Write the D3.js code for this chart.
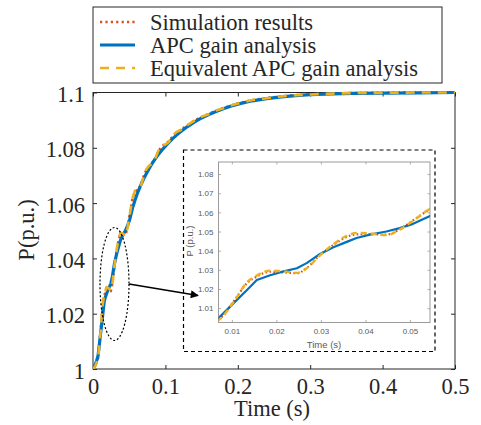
<!DOCTYPE html>
<html><head><meta charset="utf-8">
<script src="https://cdn.jsdelivr.net/npm/d3@7"></script>
<style>body{margin:0;background:#fff}svg{display:block}</style>
</head><body>
<svg id="c" width="481" height="425"></svg>
<script>
const time = [0,0.003,0.005,0.007,0.0104,0.0134,0.0156,0.0186,0.0216,0.0246,0.0268,0.0298,0.0328,0.0358,0.038,0.041,0.0447,0.0477,0.0507,0.0545,0.058,0.062,0.066,0.07,0.074,0.078,0.082,0.086,0.09,0.095,0.1,0.105,0.11,0.115,0.12,0.13,0.14,0.15,0.16,0.17,0.18,0.19,0.2,0.22,0.24,0.26,0.28,0.3,0.33,0.36,0.4,0.45,0.5];
const apcGain = [1.000,1.0015,1.003,1.0048,1.0126,1.0195,1.0247,1.0272,1.0292,1.0308,1.0335,1.0383,1.0418,1.0446,1.0466,1.0484,1.0500,1.0518,1.0540,1.0581,1.0610,1.0640,1.0665,1.0688,1.0708,1.0727,1.0745,1.0760,1.0775,1.0791,1.0806,1.0820,1.0833,1.0845,1.0856,1.0876,1.0893,1.0908,1.0920,1.0931,1.0941,1.0950,1.0958,1.0970,1.0978,1.0984,1.0989,1.0992,1.0995,1.0997,1.0998,1.0999,1.1000];
const simulation = [1.000,1.0012,1.0025,1.0040,1.0135,1.0230,1.0265,1.0290,1.0287,1.0282,1.0310,1.0378,1.0430,1.0472,1.0485,1.0486,1.0484,1.0512,1.0558,1.0615,1.0642,1.0648,1.0664,1.0697,1.0722,1.0735,1.0744,1.0762,1.0787,1.0805,1.0814,1.0824,1.0841,1.0855,1.0863,1.0881,1.0899,1.0911,1.0923,1.0934,1.0944,1.0952,1.0961,1.0972,1.0980,1.0986,1.0990,1.0993,1.0996,1.0998,1.0999,1.1000,1.1000];
const equivalentApc = [1.000,1.0010,1.0024,1.0038,1.0132,1.0235,1.0270,1.0296,1.0292,1.0284,1.0308,1.0376,1.0433,1.0478,1.0493,1.0490,1.0481,1.0510,1.0556,1.0618,1.0645,1.0650,1.0662,1.0695,1.0724,1.0737,1.0742,1.0760,1.0788,1.0807,1.0812,1.0822,1.0843,1.0857,1.0862,1.0882,1.0898,1.0912,1.0922,1.0935,1.0943,1.0953,1.0960,1.0973,1.0979,1.0986,1.0990,1.0993,1.0996,1.0998,1.0999,1.1000,1.1000];
const seriesNames = ["Simulation results","APC gain analysis","Equivalent APC gain analysis"];
const seriesColors = ["#D95319","#0072BD","#EDB120"];
const xTicks = [0,0.1,0.2,0.3,0.4,0.5];
const yTicks = [1,1.02,1.04,1.06,1.08,1.1];
const insetXTicks = [0.01,0.02,0.03,0.04,0.05];
const insetYTicks = [1.01,1.02,1.03,1.04,1.05,1.06,1.07,1.08];

const svg = d3.select("#c");
const serif = "'Liberation Serif','Times New Roman',serif";
const sans = "'Liberation Sans',Arial,sans-serif";
const fs = "22.5px";
const dataSets = [simulation, apcGain, equivalentApc];
const styles = [
  {w:2.6, dash:"2.2,3.2"},
  {w:3.2, dash:null},
  {w:2.6, dash:"9,7"}
];
const drawOrder = [0,1,2];

// ---------- main axes ----------
const M = {l:93, r:455, t:92.5, b:369};
const x = d3.scaleLinear().domain([0,0.5]).range([M.l,M.r]);
const y = d3.scaleLinear().domain([1,1.1]).range([M.b,M.t]);

svg.append("clipPath").attr("id","mc").append("rect")
  .attr("x",M.l).attr("y",M.t-3).attr("width",M.r-M.l).attr("height",M.b-M.t+3);

const tickLen = 4;
const gx = svg.append("g").attr("transform",`translate(0,${M.b})`)
  .call(d3.axisBottom(x).tickValues(xTicks).tickFormat(d3.format("")).tickSizeInner(-tickLen).tickSizeOuter(0).tickPadding(9));
const gxTop = svg.append("g").attr("transform",`translate(0,${M.t})`)
  .call(d3.axisTop(x).tickValues(xTicks).tickFormat("").tickSizeInner(-tickLen).tickSizeOuter(0));
const gy = svg.append("g").attr("transform",`translate(${M.l},0)`)
  .call(d3.axisLeft(y).tickValues(yTicks).tickFormat(d3.format("")).tickSizeInner(-tickLen).tickSizeOuter(0).tickPadding(8));
const gyR = svg.append("g").attr("transform",`translate(${M.r},0)`)
  .call(d3.axisRight(y).tickValues(yTicks).tickFormat("").tickSizeInner(-tickLen).tickSizeOuter(0));
[gx,gxTop,gy,gyR].forEach(g=>{
  g.select(".domain").remove();
  g.selectAll(".tick line").attr("stroke","#262626").attr("stroke-width",1);
  g.selectAll("text").attr("fill","#262626").style("font-family",serif).style("font-size",fs);
});
gx.selectAll("text").attr("dy","0.7em");
gy.selectAll("text").attr("dy","0.4em");
svg.append("rect").attr("x",M.l).attr("y",M.t).attr("width",M.r-M.l).attr("height",M.b-M.t)
  .attr("fill","none").attr("stroke","#262626").attr("stroke-width",1);

const lineMain = d3.line().x((d,i)=>x(time[i])).y(d=>y(d));
const gm = svg.append("g").attr("clip-path","url(#mc)");
drawOrder.forEach(k=>{
  const p = gm.append("path").datum(dataSets[k]).attr("d",lineMain)
    .attr("fill","none").attr("stroke",seriesColors[k]).attr("stroke-width",styles[k].w)
    .attr("stroke-linejoin","round");
  if(styles[k].dash) p.attr("stroke-dasharray",styles[k].dash);
});

svg.append("text").attr("x",272).attr("y",416).attr("text-anchor","middle")
  .style("font-family",serif).style("font-size",fs).attr("fill","#262626").text("Time (s)");
svg.append("text").attr("transform","translate(34,230) rotate(-90)").attr("text-anchor","middle")
  .style("font-family",serif).style("font-size",fs).attr("fill","#262626").text("P(p.u.)");

// ---------- legend ----------
const lg = svg.append("g");
lg.append("rect").attr("x",93).attr("y",7).attr("width",349).attr("height",76)
  .attr("fill","#fff").attr("stroke","#262626").attr("stroke-width",1);
seriesNames.forEach((name,k)=>{
  const cy = 22 + k*23;
  const l = lg.append("line").attr("x1",100).attr("x2",135).attr("y1",cy).attr("y2",cy)
    .attr("stroke",seriesColors[k]).attr("stroke-width",styles[k].w);
  if(styles[k].dash) l.attr("stroke-dasharray",styles[k].dash);
  lg.append("text").attr("x",150).attr("y",cy+8).style("font-family",serif).style("font-size",fs)
    .attr("fill","#262626").text(name);
});

// ---------- inset ----------
svg.append("rect").attr("x",183.5).attr("y",150).attr("width",251.5).attr("height",201.5)
  .attr("fill","#fff").attr("stroke","#000").attr("stroke-width",1.2).attr("stroke-dasharray","4,3");
const I = {l:218.5, r:430, t:162, b:322.5};
const xi = d3.scaleLinear().domain([0.007,0.0545]).range([I.l,I.r]);
const yi = d3.scaleLinear().domain([1.0025,1.0863]).range([I.b,I.t]);
svg.append("clipPath").attr("id","ic").append("rect")
  .attr("x",I.l).attr("y",I.t).attr("width",I.r-I.l).attr("height",I.b-I.t);
const grey = "#9a9a9a", tgrey = "#5a5a5a";
const it = 2.5;
const ix = svg.append("g").attr("transform",`translate(0,${I.b})`)
  .call(d3.axisBottom(xi).tickValues(insetXTicks).tickFormat(d3.format(".2f")).tickSizeInner(-it).tickSizeOuter(0).tickPadding(6));
const ixT = svg.append("g").attr("transform",`translate(0,${I.t})`)
  .call(d3.axisTop(xi).tickValues(insetXTicks).tickFormat("").tickSizeInner(-it).tickSizeOuter(0));
const iy = svg.append("g").attr("transform",`translate(${I.l},0)`)
  .call(d3.axisLeft(yi).tickValues(insetYTicks).tickFormat(d3.format(".2f")).tickSizeInner(-it).tickSizeOuter(0).tickPadding(5));
const iyR = svg.append("g").attr("transform",`translate(${I.r},0)`)
  .call(d3.axisRight(yi).tickValues(insetYTicks).tickFormat("").tickSizeInner(-it).tickSizeOuter(0));
[ix,ixT,iy,iyR].forEach(g=>{
  g.select(".domain").remove();
  g.selectAll(".tick line").attr("stroke",grey).attr("stroke-width",0.8);
  g.selectAll("text").attr("fill",tgrey).style("font-family",sans).style("font-size","8px");
});
ix.selectAll("text").attr("dy","0.72em");
iy.selectAll("text").attr("dy","0.34em");
svg.append("rect").attr("x",I.l).attr("y",I.t).attr("width",I.r-I.l).attr("height",I.b-I.t)
  .attr("fill","none").attr("stroke",grey).attr("stroke-width",1);
const lineInset = d3.line().x((d,i)=>xi(time[i])).y(d=>yi(d)).curve(d3.curveMonotoneX);
const lineInsetLin = d3.line().x((d,i)=>xi(time[i])).y(d=>yi(d));
const gi = svg.append("g").attr("clip-path","url(#ic)");
const iStyles = [{w:2.2,dash:"1.6,2.4"},{w:2.2,dash:null},{w:2.4,dash:"6,4"}];
drawOrder.forEach(k=>{
  const p = gi.append("path").datum(dataSets[k]).attr("d",k===1?lineInsetLin:lineInset)
    .attr("fill","none").attr("stroke",seriesColors[k]).attr("stroke-width",iStyles[k].w)
    .attr("stroke-linejoin","round");
  if(iStyles[k].dash) p.attr("stroke-dasharray",iStyles[k].dash);
});
svg.append("text").attr("x",324).attr("y",348).attr("text-anchor","middle")
  .style("font-family",sans).style("font-size","9.5px").attr("fill",tgrey).text("Time (s)");
svg.append("text").attr("transform","translate(193,241) rotate(-90)").attr("text-anchor","middle")
  .style("font-family",sans).style("font-size","9.5px").attr("fill",tgrey).text("P (p.u.)");

// ---------- ellipse + arrow ----------
svg.append("ellipse").attr("cx",114.5).attr("cy",284).attr("rx",14.5).attr("ry",56.5)
  .attr("fill","none").attr("stroke","#000").attr("stroke-width",1.2).attr("stroke-dasharray","2,2");
svg.append("defs").append("marker").attr("id","ah").attr("viewBox","0 0 10 10")
  .attr("refX",9).attr("refY",5).attr("markerWidth",10).attr("markerHeight",8).attr("markerUnits","userSpaceOnUse")
  .attr("orient","auto").append("path").attr("d","M0,0 L10,5 L0,10 Z").attr("fill","#000");
svg.append("line").attr("x1",129).attr("y1",284).attr("x2",198).attr("y2",295.5)
  .attr("stroke","#000").attr("stroke-width",1.3).attr("marker-end","url(#ah)");
</script>
</body></html>
